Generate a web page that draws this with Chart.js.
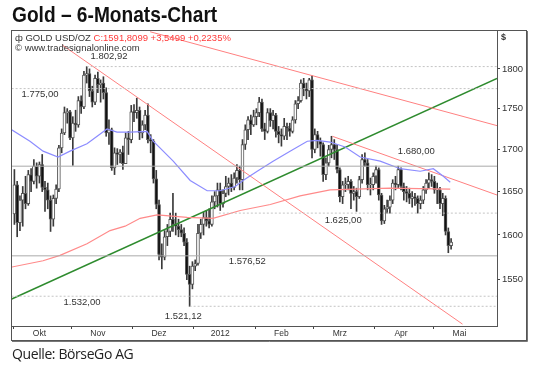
<!DOCTYPE html>
<html>
<head>
<meta charset="utf-8">
<script src="https://cdn.jsdelivr.net/npm/chart.js@4/dist/chart.umd.min.js"></script>
<style>
  body { margin: 0; background: #fff; }
  #wrap { position: relative; width: 535px; height: 365px; font-family: "Liberation Sans", Arial, sans-serif; }
  #wrap canvas { position: absolute; left: 0; top: 0; }
  .txt { position: absolute; white-space: nowrap; }
  #title { left: 12px; top: 2px; font: bold 22px "Liberation Sans", sans-serif; color: #111; transform: scaleX(0.87); transform-origin: left top; }
  #head1 { left: 15px; top: 32px; font-size: 9.5px; color: #333; }
  #head1 span { color: #ff3a3a; }
  #head2 { left: 15px; top: 42px; font-size: 9.5px; color: #333; }
  #dollar { left: 501px; top: 32px; font-size: 9px; font-weight: bold; color: #333; }
  #source { left: 12px; top: 344px; font-size: 14px; color: #222; font-family: "Open Sans", sans-serif; letter-spacing: -0.4px; }
</style>
</head>
<body>
<div id="wrap">
  <canvas id="goldChart" width="535" height="365"></canvas>
  <div class="txt" id="title">Gold – 6-Monats-Chart</div>
  <div class="txt" id="head1">ф GOLD USD/OZ <span>C:1591,8099 +3,5499 +0,2235%</span></div>
  <div class="txt" id="head2">© www.tradesignalonline.com</div>
  <div class="txt" id="dollar">$</div>
  <div class="txt" id="source">Quelle: BörseGo AG</div>
</div>
<script>
// trading days from 3 Oct 2011 to 9 May 2012, one entry per weekday
const opens = [1624,1658,1614,1640,1648,1636,1670,1662,1680,1668,1682,1655,1652,1640,1618,1642,1653,1702,1720,1745,1746,
  1714,1732,1730,1760,1752,1792,1794,1772,1758,1788,1780,1782,1770,1720,1724,1678,1696,1694,1697,1683,1714,1712,
  1746,1745,1748,1720,1730,1742,1712,1710,1665,1635,1578,1575,1598,1604,1618,1612,1610,1606,1602,1592,1556,1545,
  1565,1568,1602,1612,1620,1616,1612,1638,1645,1652,1636,1648,1656,1660,1655,1666,1675,1664,1706,1724,1736,1730,
  1740,1745,1758,1725,1722,1745,1735,1742,1722,1718,1716,1728,1726,1722,1736,1756,1760,1782,1775,1772,1786,
  1700,1718,1710,1706,1670,1684,1700,1706,1700,1676,1644,1658,1658,1662,1648,1650,1644,1664,1688,1684,1658,1658,
  1668,1676,1646,1616,1630,1632,1640,1660,1658,1676,1656,1650,1648,1642,1644,1642,1636,1640,1652,1660,1664,
  1662,1652,1652,1636,1642,1604,1588];
const highs = [1676,1662,1645,1656,1668,1675,1677,1688,1684,1685,1694,1662,1660,1645,1646,1658,1705,1725,1752,1750,1748,
  1740,1748,1765,1766,1797,1803,1800,1778,1792,1796,1786,1790,1776,1736,1726,1702,1701,1700,1704,1720,1722,1754,
  1755,1763,1752,1735,1748,1756,1718,1712,1675,1640,1590,1605,1612,1625,1648,1625,1618,1612,1608,1596,1565,1570,
  1572,1612,1618,1626,1628,1630,1645,1650,1660,1660,1652,1668,1666,1670,1672,1682,1680,1712,1730,1740,1742,1748,
  1750,1764,1762,1732,1750,1750,1748,1744,1728,1725,1738,1732,1732,1740,1760,1765,1786,1788,1782,1788,1791,
  1725,1722,1714,1708,1690,1705,1716,1712,1706,1678,1662,1666,1668,1664,1656,1654,1668,1694,1696,1688,1666,1672,
  1680,1678,1648,1634,1640,1645,1664,1668,1680,1678,1660,1656,1654,1650,1648,1645,1645,1656,1664,1672,1670,
  1668,1660,1655,1648,1645,1608,1596];
const lows = [1612,1598,1605,1610,1630,1634,1650,1659,1654,1660,1650,1627,1630,1604,1610,1636,1650,1696,1718,1732,1712,
  1681,1722,1727,1744,1750,1782,1765,1752,1755,1770,1758,1762,1716,1706,1675,1670,1682,1684,1676,1683,1694,1708,
  1734,1738,1712,1714,1724,1708,1696,1660,1630,1572,1562,1572,1588,1598,1604,1600,1598,1598,1588,1550,1521,1540,
  1560,1566,1596,1600,1610,1608,1610,1630,1632,1628,1632,1644,1646,1650,1652,1660,1652,1652,1700,1712,1718,1728,
  1730,1740,1722,1712,1720,1728,1725,1715,1708,1704,1712,1712,1716,1720,1732,1750,1758,1766,1762,1765,1690,
  1696,1702,1692,1662,1664,1680,1690,1688,1672,1638,1636,1650,1652,1630,1640,1627,1642,1660,1680,1652,1646,1652,
  1660,1640,1612,1613,1625,1625,1636,1652,1654,1652,1640,1638,1636,1632,1634,1625,1630,1636,1648,1654,1656,
  1648,1636,1630,1622,1600,1580,1584];
const closes = [1658,1614,1640,1648,1636,1670,1662,1680,1668,1682,1655,1652,1640,1618,1642,1653,1702,1720,1745,1746,1714,
  1732,1730,1760,1752,1792,1794,1772,1758,1788,1780,1782,1770,1720,1724,1678,1696,1694,1697,1683,1714,1712,1746,
  1745,1748,1720,1730,1742,1712,1710,1665,1635,1578,1575,1598,1604,1618,1612,1610,1606,1602,1592,1556,1545,1565,
  1568,1602,1612,1620,1616,1612,1638,1645,1652,1636,1648,1656,1660,1655,1666,1675,1664,1706,1724,1736,1730,1740,
  1745,1758,1725,1722,1745,1735,1742,1722,1718,1716,1728,1726,1722,1736,1756,1760,1782,1775,1772,1786,1700,
  1718,1710,1706,1670,1684,1700,1706,1700,1676,1644,1658,1658,1662,1648,1650,1644,1664,1688,1684,1658,1658,1668,
  1676,1646,1616,1630,1632,1640,1660,1658,1676,1656,1650,1648,1642,1644,1642,1636,1640,1652,1660,1664,1662,
  1652,1652,1636,1642,1604,1588,1592];

// month axis: index of the first trading day of each month
const monthLabels = ['Okt', 'Nov', 'Dez', '2012', 'Feb', 'Mrz', 'Apr', 'Mai'];
const monthStart = [0, 21, 43, 65, 87, 108, 130, 151];

const priceTicks = [1550, 1600, 1650, 1700, 1750, 1800];

// moving averages (day index / price)
const blueMaDay = [-1, 5.6, 10.3, 15.7, 20, 26.1, 33.3, 36.9, 41.6, 47.7, 49.9, 57.1, 63.2, 69.3, 74, 79.4, 82.2, 87.3, 93, 99.1, 105.3, 108.9, 113.5, 118.9, 124.3, 131.5, 138.7, 145.9, 150.6, 154.2, 156.7];
const blueMaVal = [1724, 1710, 1698, 1691, 1698, 1707, 1725, 1721, 1721, 1722, 1710, 1686, 1663, 1651, 1651, 1656, 1663, 1674, 1686, 1698, 1710, 1711, 1709, 1703, 1691, 1686, 1677, 1674, 1677, 1668, 1661];
const redMaDay = [-1, 10.3, 16.4, 26.1, 34.4, 39.8, 45.2, 51.3, 62.1, 71.4, 81.2, 92, 102.7, 113.5, 135, 156.7];
const redMaVal = [1564, 1571, 1577, 1590, 1605, 1610, 1619, 1623, 1620, 1619, 1628, 1635, 1645, 1652, 1654, 1653];

// trend lines: [day, price] at both ends
const greenTrend = [[-1, 1529], [173.5, 1788]];
const redTrends = [
  [[48.8, 1848], [173.5, 1729]],
  [[17.1, 1831], [161.1, 1502]],
  [[114.3, 1716], [173.5, 1646]],
];

// horizontal levels, the day they start from and where their label sits
const levels = [1802.92, 1775.00, 1680.00, 1625.00, 1576.52, 1532.00, 1521.12];
const levelFrom = [26, -1, -1, 73.5, -1, -1, 63];
const levelLabelDay = [34, 9.2, 144.5, 118.2, 83.7, 24.3, 60.7];
const levelSolid = [false, false, true, false, true, false, false];
const levelLabelDy = [-10, 6, -15, 7, 6, 6, 10];

const X_MIN = -0.86;
const X_MAX = 173.5;

const fmtDe = (v) => {
  const [a, b] = v.toFixed(2).split('.');
  return a.replace(/\B(?=(\d{3})+(?!\d))/g, '.') + ',' + b;
};

const labelAt = {};
monthStart.forEach((s, k) => { labelAt[s + 9] = monthLabels[k]; });

const lineSet = (data, color, width, dash) => ({
  type: 'line',
  data: data,
  borderColor: color,
  borderWidth: width,
  borderDash: dash || [],
  pointRadius: 0,
  fill: false,
  order: 0,
});

const datasets = [];

levels.forEach((v, k) => {
  datasets.push(lineSet([{ x: levelFrom[k], y: v }, { x: X_MAX, y: v }],
    levelSolid[k] ? '#aaaaaa' : '#c4c4c4', 1, levelSolid[k] ? [] : [2, 2]));
});

datasets.push({
  type: 'bar',
  data: highs.map((h, i) => ({ x: i, y: [lows[i], h] })),
  backgroundColor: '#3a3a3a',
  barThickness: 1,
  grouped: false,
  order: 3,
});
datasets.push({
  type: 'bar',
  data: opens.map((o, i) => ({ x: i, y: [o, closes[i]] })),
  backgroundColor: (ctx) => closes[ctx.dataIndex] >= opens[ctx.dataIndex] ? '#ffffff' : '#111111',
  borderColor: '#555555',
  borderWidth: 1,
  borderSkipped: false,
  barThickness: 3,
  minBarLength: 1,
  grouped: false,
  order: 2,
});

datasets.push(lineSet(redMaDay.map((d, k) => ({ x: d, y: redMaVal[k] })), '#ff8a8a', 1.2));
datasets.push(lineSet(blueMaDay.map((d, k) => ({ x: d, y: blueMaVal[k] })), '#8c8cff', 1.2));
redTrends.forEach((t) => {
  datasets.push(lineSet(t.map(([d, p]) => ({ x: d, y: p })), '#ff8080', 1));
});
datasets.push(lineSet(greenTrend.map(([d, p]) => ({ x: d, y: p })), '#2e8b2e', 1.5));

const levelLabels = {
  id: 'levelLabels',
  afterDatasetsDraw(chart) {
    const { ctx, scales: { x, y } } = chart;
    ctx.save();
    ctx.font = '9.5px "Liberation Sans", Arial, sans-serif';
    ctx.fillStyle = '#333';
    ctx.textAlign = 'center';
    ctx.textBaseline = 'middle';
    levels.forEach((v, k) => {
      ctx.fillText(fmtDe(v), x.getPixelForValue(levelLabelDay[k]), y.getPixelForValue(v) + levelLabelDy[k]);
    });
    ctx.restore();
  },
};

const frame = {
  id: 'frame',
  afterDraw(chart) {
    const { ctx, chartArea: a, scales: { x, y } } = chart;
    ctx.save();
    ctx.strokeStyle = '#555';
    ctx.lineWidth = 1;
    ctx.strokeRect(a.left - 0.5, a.top - 0.5, y.right - a.left, x.bottom - a.top);
    ctx.strokeStyle = '#777';
    ctx.beginPath();
    ctx.moveTo(y.right + 0.5, a.top);
    ctx.lineTo(y.right + 0.5, x.bottom + 0.5);
    ctx.lineTo(a.left, x.bottom + 0.5);
    ctx.stroke();
    ctx.restore();
  },
};

Chart.defaults.font.family = '"Liberation Sans", Arial, sans-serif';
Chart.defaults.font.size = 9;
Chart.defaults.color = '#333';

new Chart(document.getElementById('goldChart').getContext('2d'), {
  type: 'bar',
  data: { datasets: datasets },
  options: {
    responsive: false,
    animation: false,
    layout: { padding: { left: 12, top: 31, right: 8, bottom: 24 } },
    plugins: { legend: { display: false }, tooltip: { enabled: false } },
    scales: {
      x: {
        type: 'linear',
        offset: false,
        min: X_MIN,
        max: X_MAX,
        afterBuildTicks: (scale) => {
          const vals = monthStart.map((s) => s - 0.5).concat(monthStart.map((s) => s + 9));
          scale.ticks = vals.sort((a, b) => a - b).map((v) => ({ value: v }));
        },
        afterFit: (scale) => { scale.height = 15; },
        ticks: {
          autoSkip: false,
          maxRotation: 0,
          padding: 0,
          color: '#333',
          font: { size: 8.5 },
          callback: (v) => labelAt[v] || '',
        },
        grid: {
          offset: false,
          drawOnChartArea: false,
          tickLength: 3,
          tickColor: (ctx) => (ctx.tick && labelAt[ctx.tick.value]) ? 'rgba(0,0,0,0)' : '#444',
        },
        border: { display: true, color: '#555' },
      },
      y: {
        type: 'logarithmic',
        position: 'right',
        min: 1500,
        max: 1849,
        afterBuildTicks: (scale) => { scale.ticks = priceTicks.map((v) => ({ value: v })); },
        afterFit: (scale) => { scale.width = 30; },
        ticks: {
          crossAlign: 'near',
          padding: 2,
          color: '#333',
          font: { size: 9.5 },
          callback: (v) => String(v),
        },
        grid: { drawOnChartArea: false, tickLength: 3, tickColor: '#444' },
        border: { display: true, color: '#555' },
      },
    },
  },
  plugins: [levelLabels, frame],
});
</script>
</body>
</html>
